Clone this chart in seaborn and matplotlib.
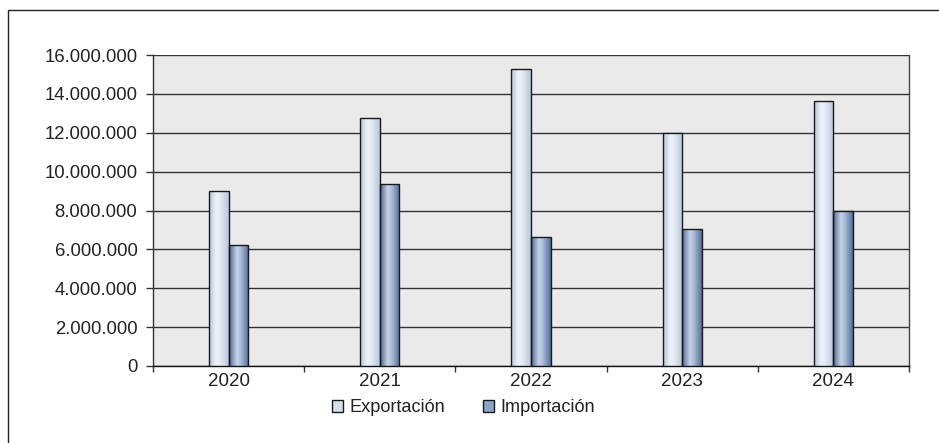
import numpy as np
import pandas as pd
import matplotlib
matplotlib.use("Agg")
import matplotlib.pyplot as plt
import seaborn as sns
from matplotlib.patches import Rectangle, Patch
from matplotlib.colors import LinearSegmentedColormap
from matplotlib.ticker import FuncFormatter, FixedLocator

years = ["2020", "2021", "2022", "2023", "2024"]
exportacion = [9000000, 12750000, 15280000, 12000000, 13630000]
importacion = [6230000, 9360000, 6650000, 7050000, 7980000]
series = ["Exportación", "Importación"]

df = pd.DataFrame({
    "Año": years * 2,
    "Valor": exportacion + importacion,
    "Serie": [series[0]] * len(years) + [series[1]] * len(years),
})

sns.set_theme(style="white")
plt.rcParams["font.family"] = ["Liberation Sans", "DejaVu Sans"]

W, H = 939, 443
fig = plt.figure(figsize=(W / 100, H / 100), dpi=100)
ax = fig.add_axes([153 / W, 1 - 366 / H, (909 - 153) / W, (366 - 55) / H])
ax.set_facecolor("#eaeaea")

mid_colors = {"Exportación": "#d6dfec", "Importación": "#8ea4c6"}
sns.barplot(data=df, x="Año", y="Valor", hue="Serie", palette=mid_colors,
            width=0.26, edgecolor="#1a1a1a", linewidth=1.0, ax=ax,
            legend=False, zorder=3)

cmaps = {
    "Exportación": LinearSegmentedColormap.from_list(
        "exp", [(0, "#b4c2d8"), (0.35, "#eef2f8"), (0.55, "#e6ecf4"), (1, "#b8c6dc")]),
    "Importación": LinearSegmentedColormap.from_list(
        "imp", [(0, "#4a6896"), (0.4, "#c8d4e6"), (0.6, "#a9bad4"), (1, "#4f6d9c")]),
}
grad = np.linspace(0, 1, 256).reshape(1, -1)
ylim = (0, 16000000)
xlim = (-0.5, len(years) - 0.5)
n = len(years)
for i, p in enumerate(ax.patches[: 2 * n]):
    s = series[i // n]
    x0, y0 = p.get_x(), p.get_y()
    w, h = p.get_width(), p.get_height()
    im = ax.imshow(grad, cmap=cmaps[s], aspect="auto",
                   extent=(x0, x0 + w, y0, y0 + h), zorder=2.9,
                   interpolation="bilinear")
    im.set_clip_path(p)
    p.set_facecolor("none")
ax.set_xlim(*xlim)
ax.set_ylim(*ylim)

ax.set_yticks(np.arange(0, 16000001, 2000000))
ax.yaxis.set_major_formatter(FuncFormatter(lambda v, _: f"{int(v):,}".replace(",", ".")))
ax.grid(axis="y", color="#333333", linewidth=1.0, zorder=1)
ax.set_axisbelow(True)
ax.set_xlabel("")
ax.set_ylabel("")

ax.tick_params(axis="y", which="major", direction="out", length=5, width=1,
               color="#333333", labelsize=13.3, labelcolor="#222222", pad=6.2, left=True)
ax.tick_params(axis="x", which="major", length=0, labelsize=13.5,
               labelcolor="#222222", pad=5)
ax.xaxis.set_minor_locator(FixedLocator(np.arange(-0.5, n, 1.0)))
ax.tick_params(axis="x", which="minor", direction="out", length=4, width=1,
               color="#333333", bottom=True)

ax.spines["top"].set_visible(False)
ax.spines["left"].set_color("#333333")
ax.spines["right"].set_color("#444444")
ax.spines["bottom"].set_color("#111111")
for sp in ["left", "right", "bottom"]:
    ax.spines[sp].set_linewidth(1.0)

handles = [Patch(facecolor=mid_colors[s], edgecolor="#1a1a1a", linewidth=1.0)
           for s in series]
fig.legend(handles, series, loc="center", bbox_to_anchor=(463.5 / W, 1 - 408 / H),
           ncol=2, frameon=False, fontsize=13.1, handlelength=0.6, handleheight=0.6,
           handletextpad=0.33, columnspacing=2.1, labelcolor="#222222")

fig.add_artist(Rectangle((8 / W, -0.1), 2, (H - 10) / H + 0.1,
                         transform=fig.transFigure, fill=False,
                         edgecolor="#222222", linewidth=1.0))

fig.savefig("out.png", dpi=100)
